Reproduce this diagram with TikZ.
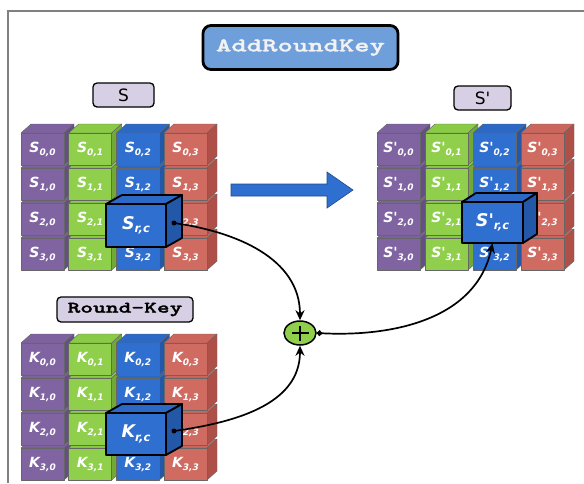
\documentclass[tikz,border=0pt]{standalone}
\usepackage{fontspec}
\usetikzlibrary{arrows.meta,shapes.geometric}

\newfontfamily\cellfont{DejaVu Sans}
\newfontfamily\codefont{lmmonolt10-bold}[Extension=.otf, FakeStretch=1.5, FakeBold=1.6]

% face colours: front / top / side
\definecolor{pufront}{HTML}{8064A2}\definecolor{putop}{HTML}{7E62A0}\definecolor{puside}{HTML}{654D86}
\definecolor{grfront}{HTML}{8FCF4B}\definecolor{grtop}{HTML}{8ACB46}\definecolor{grside}{HTML}{70AA35}
\definecolor{blfront}{HTML}{2F6FCF}\definecolor{bltop}{HTML}{2C69C6}\definecolor{blside}{HTML}{2357A8}
\definecolor{rdfront}{HTML}{D06B62}\definecolor{rdtop}{HTML}{CC665D}\definecolor{rdside}{HTML}{AE5048}
\definecolor{tagfill}{HTML}{D7D0E4}
\definecolor{titlefill}{HTML}{6F9FDB}
\definecolor{xorfill}{HTML}{8FCF4B}

% cube: #1,#2 front top-left corner, #3 width, #4 height, #5/#6 depth offset, #7 colour, #8 outline style
\newcommand\aescube[8]{%
  \path[#8, fill=#7top] (#1,#2) -- ++(#5,-#6) -- ++(#3,0) -- ++(-#5,#6) -- cycle;
  \path[#8, fill=#7side] (#1+#3,#2) -- ++(#5,-#6) -- ++(0,#4) -- ++(-#5,#6) -- cycle;
  \path[#8, fill=#7front] (#1,#2) rectangle ++(#3,#4);
}
\newcommand\cellsub[2]{#1\raisebox{-2.6pt}{\fontsize{9}{9}\selectfont #2}}
\newcommand\bigsub[2]{#1\raisebox{-3.4pt}{\fontsize{11.5}{11.5}\selectfont #2}}

% 4x4 block of cubes: #1,#2 first cube, #3 column pitch, #4 letter, #5 node name prefix
\newcommand\aesgrid[5]{%
  \foreach \r in {3,2,1,0}{
    \foreach \c/\col in {0/pu,1/gr,2/bl,3/rd}{
      \pgfmathsetmacro\cx{#1+\c*#3}
      \pgfmathsetmacro\cy{#2+\r*35}
      \aescube{\cx}{\cy}{43}{32}{10}{9}{\col}{cellline}
      \node[celltext] (#5\r\c) at (\cx+21.5,\cy+16.5) {\cellsub{#4}{\r,\c}};
    }
  }
}

\tikzset{
  cellline/.style={draw=black!60, line width=0.45pt, line join=round},
  bigline/.style={draw=black, line width=1.8pt, line join=round},
  celltext/.style={text=white, inner sep=0pt,
    font=\cellfont\bfseries\itshape\fontsize{14}{14}\selectfont},
  bigtext/.style={text=white, inner sep=0pt,
    font=\cellfont\bfseries\itshape\fontsize{17.5}{17.5}\selectfont},
  tag/.style={draw=black, line width=1.3pt, rounded corners=4pt, fill=tagfill, inner sep=0pt},
  titlebox/.style={draw=black, line width=2.8pt, rounded corners=8pt, fill=titlefill,
    text=white!95!black, inner sep=0pt, minimum width=195pt, minimum height=44pt,
    font=\codefont\fontsize{19.5}{19.5}\selectfont},
  conn/.style={draw=black, line width=1.7pt},
  dot/.style={circle, fill=black, inner sep=0pt, minimum size=5pt},
  tip/.style={-{Stealth[length=10pt,width=9pt]}},
}

\begin{document}
\begin{tikzpicture}[x=1pt,y=-1pt]
\useasboundingbox (0,0) rectangle (584,483);
\fill[white] (0,0) rectangle (584,483);

% frame
\draw[gray, line width=1.4pt] (8,483) -- (8,11) -- (584,11);

% headings
\node[titlebox] (title) at (300.5,47.5) {AddRoundKey};
\node[tag, minimum width=61pt, minimum height=24pt, font=\cellfont\fontsize{17}{17}\selectfont]
  (tagS) at (123.5,95) {S};
\node[tag, minimum width=57pt, minimum height=24pt, font=\cellfont\fontsize{17}{17}\selectfont]
  (tagSp) at (482.5,98) {S'};
\node[tag, minimum width=136pt, minimum height=25pt, font=\codefont\fontsize{16.2}{16.2}\selectfont]
  (tagK) at (125,309.5) {Round-Key};

% state, result and key blocks
\aesgrid{21}{133}{47.67}{S}{s}
\aesgrid{377}{133}{48}{S'}{t}
\aesgrid{21}{343}{47.67}{K}{k}

% highlighted bytes
\aescube{106}{204}{60}{43}{16}{9}{bl}{bigline}
\node[bigtext, minimum width=60pt, minimum height=43pt] (src) at (136,225.5) {\bigsub{S}{r,c}};
\node[dot] (sdot) at (174,223) {};

\aescube{106}{413}{60}{42}{16}{9}{bl}{bigline}
\node[bigtext, minimum width=60pt, minimum height=42pt] (key) at (136,434) {\bigsub{K}{r,c}};
\node[dot] (kdot) at (174,431) {};

\aescube{462}{202}{61}{41}{14}{9}{bl}{bigline}
\node[bigtext, minimum width=61pt, minimum height=41pt] (dst) at (492.5,222.5) {\bigsub{S'}{r,c}};

% transformation arrow
\path[fill=blfront, draw=bltop!70!black, line width=0.6pt]
  (231,184) -- (327,184) -- (327,172) -- (353,190) -- (327,208) -- (327,196) -- (231,196) -- cycle;

% xor
\node[ellipse, draw=black, line width=1.5pt, fill=xorfill, minimum width=32pt, minimum height=24pt,
  inner sep=0pt] (xor) at (300,333) {};
\draw[line width=2.6pt] ([xshift=-8.5pt]xor.center) -- ([xshift=8.5pt]xor.center);
\draw[line width=2.6pt] ([yshift=-7.5pt]xor.center) -- ([yshift=7.5pt]xor.center);

% connectors
\draw[conn, tip] (sdot.center) to[out=-8, in=90] (xor.north);
\draw[conn, tip] (kdot.center) to[out=8, in=-90] (xor.south);
\draw[conn, {Circle[length=5.5pt]}-{Stealth[length=10pt,width=9pt]}] (xor.east) to[out=-3, in=-102] (dst.south);
\end{tikzpicture}
\end{document}
